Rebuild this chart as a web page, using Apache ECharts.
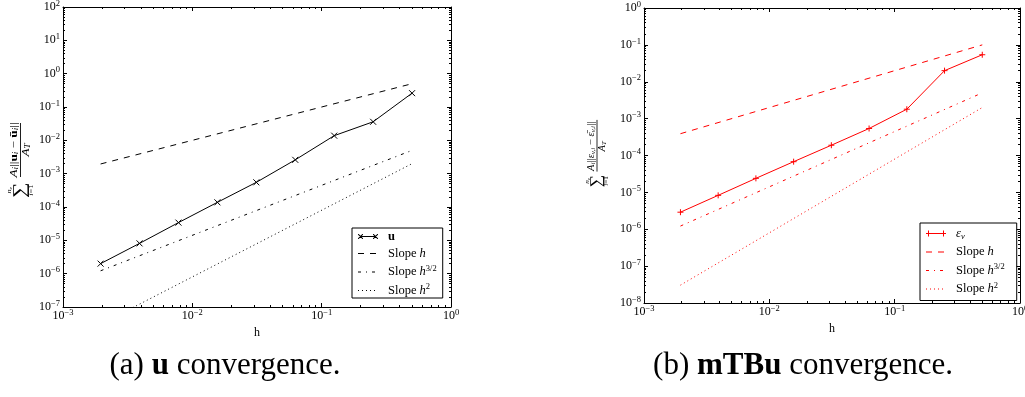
<!DOCTYPE html>
<html>
<head>
<meta charset="utf-8">
<script src="https://cdn.jsdelivr.net/npm/echarts@6/dist/echarts.min.js"></script>
<style>
  html, body { margin: 0; padding: 0; background: #fff; }
  #chart { width: 1025px; height: 397px; }
</style>
</head>
<body>
<div id="chart"></div>
<script>
// Mesh sizes h = 2^-k
const hValues = [0.001953125, 0.00390625, 0.0078125, 0.015625, 0.03125, 0.0625, 0.125, 0.25, 0.5];

// (a) velocity error
const uError = [2.0e-6, 8.1e-6, 3.4e-5, 1.38e-4, 5.5e-4, 2.6e-3, 1.38e-2, 3.6e-2, 0.26];
// (b) mTBu error
const mtbuError = [2.9e-6, 8.3e-6, 2.4e-5, 6.8e-5, 1.9e-4, 5.4e-4, 1.8e-3, 2.0e-2, 5.4e-2];

// Reference slope lines, given at their two end points
const slopeH = [0.001953125, 0.5];
const uSlope1 = [0.001953125, 0.5];
const uSlope15 = [1.22e-6, 5.0e-3];
const uSlope2 = [3.05e-8, 2.0e-3];
const mSlope1 = [3.9e-4, 0.1];
const mSlope15 = [1.22e-6, 5.0e-3];
const mSlope2 = [3.05e-8, 2.0e-3];

// Axis decades
const xMajor = [1e-3, 1e-2, 1e-1, 1];
const yMajorA = [1e-7, 1e-6, 1e-5, 1e-4, 1e-3, 1e-2, 1e-1, 1, 10, 100];
const yMajorB = [1e-8, 1e-7, 1e-6, 1e-5, 1e-4, 1e-3, 1e-2, 1e-1, 1];

const FONT = 'Liberation Serif';

function minorOf(major) {
  const out = [];
  for (let i = 0; i < major.length - 1; i++) {
    for (let m = 2; m <= 9; m++) out.push(Number((major[i] * m).toPrecision(6)));
  }
  return out;
}

function pairs(xs, ys) { return xs.map((x, i) => [x, ys[i]]); }

const tickRich = {
  b: { fontFamily: FONT, fontSize: 12, lineHeight: 16, color: '#000' },
  s: { fontFamily: FONT, fontSize: 8.5, lineHeight: 10, verticalAlign: 'top', color: '#000' }
};
function powerLabel(v) {
  const e = Math.round(Math.log10(v));
  return '{b|10}{s|' + (e < 0 ? '\u2212' + (-e) : String(e)) + '}';
}

// Four axes per direction: labelled main side, its minor ticks, mirrored side, its minor ticks
function buildAxes(dim, gi, min, max, major, mainPos, otherPos, name) {
  const minor = minorOf(major);
  const base = {
    type: 'log', logBase: 10, gridIndex: gi, min: min, max: max,
    splitLine: { show: false }, silent: true
  };
  const line = { show: true, onZero: false, lineStyle: { color: '#000', width: 1 } };
  const mainAxis = Object.assign({}, base, {
    position: mainPos,
    axisLine: line,
    axisTick: { show: true, inside: true, length: 4, customValues: major, lineStyle: { color: '#000' } },
    axisLabel: {
      show: true, customValues: major, formatter: powerLabel, rich: tickRich,
      margin: dim === 'x' ? 1 : 3, hideOverlap: false, showMinLabel: true, showMaxLabel: true
    }
  });
  if (name) {
    Object.assign(mainAxis, {
      name: name, nameLocation: 'middle', nameGap: 14,
      nameTextStyle: { fontFamily: FONT, fontSize: 12, color: '#000' }
    });
  }
  const minorTicks = (pos) => Object.assign({}, base, {
    position: pos,
    axisLine: { show: false, onZero: false },
    axisTick: { show: true, inside: true, length: 2, customValues: minor, lineStyle: { color: '#000' } },
    axisLabel: { show: false }
  });
  const mirror = Object.assign({}, base, {
    position: otherPos,
    axisLine: line,
    axisTick: { show: true, inside: true, length: 4, customValues: major, lineStyle: { color: '#000' } },
    axisLabel: { show: false }
  });
  return [mainAxis, minorTicks(mainPos), mirror, minorTicks(otherPos)];
}

const xAxes = [].concat(
  buildAxes('x', 0, 1e-3, 1, xMajor, 'bottom', 'top', 'h'),
  buildAxes('x', 1, 1e-3, 1, xMajor, 'bottom', 'top', 'h')
);
const yAxes = [].concat(
  buildAxes('y', 0, 1e-7, 100, yMajorA, 'left', 'right', null),
  buildAxes('y', 1, 1e-8, 1, yMajorB, 'left', 'right', null)
);

const CROSS = 'path://M0,0L10,10M10,0L0,10';
const PLUS = 'path://M5,0L5,10M0,5L10,5';
const DASH = [6, 6];
const DASHDOT = [3, 5, 1, 5];
const DOT = [1, 3];
const BLACK = '#000000';
const RED = '#ff0000';

function dataLine(name, axisIdx, ys, color, symbol) {
  return {
    name: name, type: 'line', xAxisIndex: axisIdx, yAxisIndex: axisIdx,
    data: pairs(hValues, ys), symbol: symbol, symbolSize: 6, showAllSymbol: true,
    lineStyle: { color: color, width: 1 },
    itemStyle: { color: color, borderColor: color, borderWidth: 1 },
    emphasis: { disabled: true }, z: 3
  };
}
function slopeLine(name, axisIdx, ys, color, dash) {
  return {
    name: name, type: 'line', xAxisIndex: axisIdx, yAxisIndex: axisIdx,
    data: pairs(slopeH, ys), symbol: 'circle', symbolSize: 4, showSymbol: false,
    lineStyle: { color: color, width: 1, type: dash },
    itemStyle: { color: color, borderColor: color, borderWidth: 1 },
    emphasis: { disabled: true }, clip: true, z: 2
  };
}

const series = [
  dataLine('uErr', 0, uError, BLACK, CROSS),
  slopeLine('uH1', 0, uSlope1, BLACK, DASH),
  slopeLine('uH15', 0, uSlope15, BLACK, DASHDOT),
  slopeLine('uH2', 0, uSlope2, BLACK, DOT),
  dataLine('mErr', 4, mtbuError, RED, PLUS),
  slopeLine('mH1', 4, mSlope1, RED, DASH),
  slopeLine('mH15', 4, mSlope15, RED, DASHDOT),
  slopeLine('mH2', 4, mSlope2, RED, DOT)
];

// Legend keys as filled shapes in a 20x12 box
const ICON = {
  cross: 'path://M0,0M20,12' +
    'M0,3.5L0.7,3.5L5,7.8L5,8.5L4.3,8.5L0,4.2Z M5,3.5L5,4.2L0.7,8.5L0,8.5L0,7.8L4.3,3.5Z' +
    'M2.5,5.5h15v1h-15z' +
    'M15,3.5L15.7,3.5L20,7.8L20,8.5L19.3,8.5L15,4.2Z M20,3.5L20,4.2L15.7,8.5L15,8.5L15,7.8L19.3,3.5Z',
  plus: 'path://M0,0M20,12M0,5.5h20v1h-20zM2,3h1v6h-1zM17,3h1v6h-1z',
  dash: 'path://M0,0M20,12M0,5.5h6v1h-6zM12,5.5h6v1h-6z',
  dashdot: 'path://M0,0M20,12M0,5.5h3v1h-3zM8,5.5h1v1h-1zM14,5.5h3v1h-3z',
  dot: 'path://M0,0M20,12M0,5.5h1v1h-1zM4,5.5h1v1h-1zM8,5.5h1v1h-1zM12,5.5h1v1h-1zM16,5.5h1v1h-1z'
};
function key(name, icon, color) {
  return { name: name, icon: icon, itemStyle: { color: color, borderColor: color, borderWidth: 0, opacity: 1 } };
}

const legendRich = {
  n: { fontFamily: FONT, fontSize: 12.5, lineHeight: 16, color: '#000' },
  i: { fontFamily: FONT, fontSize: 12.5, lineHeight: 16, fontStyle: 'italic', color: '#000' },
  bd: { fontFamily: FONT, fontSize: 12.5, lineHeight: 16, fontWeight: 'bold', color: '#000' },
  sup: { fontFamily: FONT, fontSize: 8.5, lineHeight: 10, verticalAlign: 'top', color: '#000' },
  sub: { fontFamily: FONT, fontSize: 8.5, lineHeight: 10, verticalAlign: 'bottom', fontStyle: 'italic', color: '#000' }
};
const legendText = {
  uErr: '{bd|u}',
  mErr: '{i|\u03b5}{sub|v}',
  uH1: '{n|Slope }{i|h}', mH1: '{n|Slope }{i|h}',
  uH15: '{n|Slope }{i|h}{sup|3/2}', mH15: '{n|Slope }{i|h}{sup|3/2}',
  uH2: '{n|Slope }{i|h}{sup|2}', mH2: '{n|Slope }{i|h}{sup|2}'
};
function legendBox(items, color, left, top, pad) {
  return {
    data: items, orient: 'vertical', left: left, top: top,
    padding: pad, itemGap: 4, itemWidth: 20, itemHeight: 12,
    backgroundColor: '#fff', borderColor: '#000', borderWidth: 1, borderRadius: 0,
    selectedMode: false,
    itemStyle: { color: color, borderColor: color, borderWidth: 0 },
    formatter: (name) => legendText[name],
    textStyle: { fontFamily: FONT, fontSize: 12.5, color: '#000', padding: [0, 0, 0, 5], rich: legendRich }
  };
}

// Rotated y-axis titles: sum with limits and a fraction
function yTitle(cx, cy, numerator, denominator, s) {
  const t = (text, x, y, size, extra) => ({
    type: 'text', x: x, y: y, silent: true,
    style: Object.assign({ text: text, fontFamily: FONT, fontSize: size, fill: '#000',
      align: 'center', verticalAlign: 'middle' }, extra || {})
  });
  const r = (size) => ({
    n: { fontFamily: FONT, fontSize: size, fill: '#000' },
    i: { fontFamily: FONT, fontSize: size, fontStyle: 'italic', fill: '#000' },
    b: { fontFamily: FONT, fontSize: size, fontWeight: 'bold', fill: '#000' },
    sub: { fontFamily: FONT, fontSize: size * 0.7, fontStyle: 'italic', verticalAlign: 'bottom',
      lineHeight: size * 0.75, fill: '#000' }
  });
  return {
    type: 'group', x: cx, y: cy, rotation: Math.PI / 2, scaleX: s.stretch, silent: true,
    children: [
      t('\u2211', s.sumU, 0, s.sumSize),
      t('{i|n}{sub|e}', s.sumU, -s.limV, s.limSize, { rich: r(s.limSize) }),
      t('{i|i}{n|=1}', s.sumU, s.limV, s.limSize, { rich: r(s.limSize) }),
      t(numerator, s.fracU, -s.rowV, s.fracSize, { rich: r(s.fracSize) }),
      { type: 'line', silent: true,
        shape: { x1: s.barFrom, y1: 0, x2: s.barTo, y2: 0 },
        style: { stroke: '#000', lineWidth: 0.8 } },
      t(denominator, s.fracU, s.rowV, s.fracSize, { rich: r(s.fracSize) })
    ]
  };
}

const numA = '{i|A}{sub|i}{n|||}{b|u}{sub|i}{n| \u2212 }{b|\u016b}{sub|i}{n|||}';
const numB = '{i|A}{sub|i}{n|||}{i|\u03b5}{sub|v,i}{n| \u2212 }{i|\u03b5\u0304}{sub|v,i}{n|||}';
const denom = '{i|A}{sub|T}';

const captionRich = {
  n: { fontFamily: FONT, fontSize: 31, fill: '#000' },
  b: { fontFamily: FONT, fontSize: 31, fontWeight: 'bold', fill: '#000' }
};

const chart = echarts.init(document.getElementById('chart'), null, { renderer: 'canvas' });
chart.setOption({
  animation: false,
  backgroundColor: '#fff',
  grid: [
    { left: 63, top: 7, width: 388, height: 300, containLabel: false, outerBoundsMode: 'none' },
    { left: 644, top: 8, width: 376, height: 295, containLabel: false, outerBoundsMode: 'none' }
  ],
  xAxis: xAxes,
  yAxis: yAxes,
  legend: [
    legendBox([key('uErr', ICON.cross, BLACK), key('uH1', ICON.dash, BLACK),
               key('uH15', ICON.dashdot, BLACK), key('uH2', ICON.dot, BLACK)],
              BLACK, 352, 228, [2, 6, 1, 6]),
    legendBox([key('mErr', ICON.plus, RED), key('mH1', ICON.dash, RED),
               key('mH15', ICON.dashdot, RED), key('mH2', ICON.dot, RED)],
              RED, 920, 223, [4, 12, 5, 6])
  ],
  series: series,
  graphic: [
    yTitle(20.5, 159, numA, denom,
      { stretch: 1.2, sumU: -26, sumSize: 18, limV: 11, limSize: 7, fracU: 7.5, rowV: 6, fracSize: 11, barFrom: -15, barTo: 30 }),
    yTitle(597, 154, numB, denom,
      { stretch: 1.1, sumU: -24.5, sumSize: 16, limV: 9.5, limSize: 6.5, fracU: 7, rowV: 5.5, fracSize: 9.5, barFrom: -16, barTo: 31 }),
    { type: 'text', x: 225, y: 366, silent: true,
      style: { text: '{n|(a) }{b|u}{n| convergence.}', rich: captionRich, align: 'center', verticalAlign: 'middle' } },
    { type: 'text', x: 803, y: 366, silent: true,
      style: { text: '{n|(b) }{b|mTBu}{n| convergence.}', rich: captionRich, align: 'center', verticalAlign: 'middle' } }
  ]
});
</script>
</body>
</html>
